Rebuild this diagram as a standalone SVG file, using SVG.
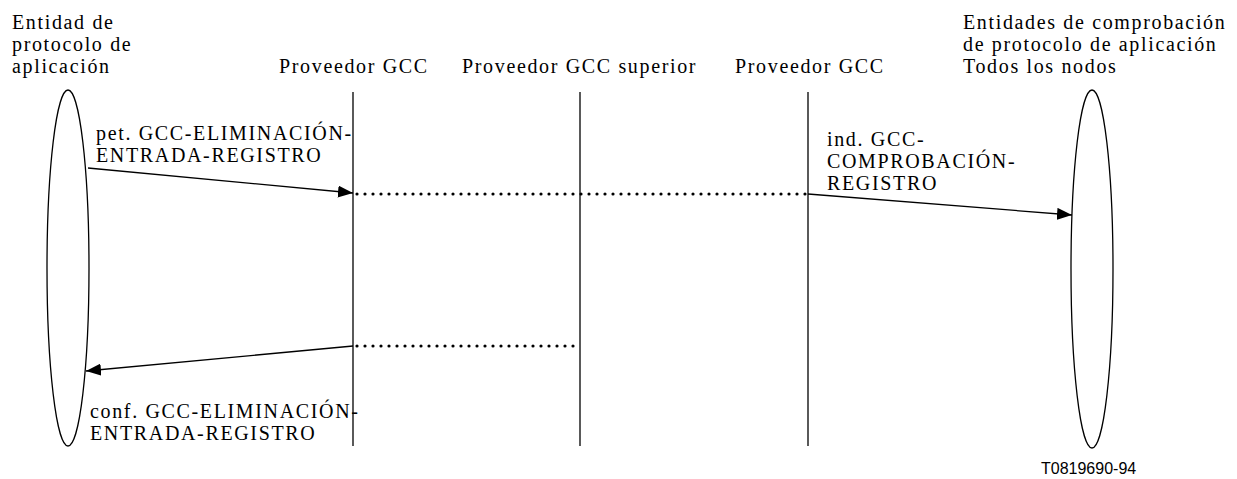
<svg xmlns="http://www.w3.org/2000/svg" width="1237" height="479" viewBox="0 0 1237 479">
<style>
.t{font-family:'Liberation Serif','Times New Roman',serif;font-size:20px;letter-spacing:1.65px;fill:#000}
.ln{stroke:#000;stroke-width:1.3;fill:none}
.dot{stroke:#000;stroke-width:3.2;stroke-linecap:round;stroke-dasharray:0 8;fill:none}
</style>
<defs>
<marker id="ah" markerWidth="16" markerHeight="12" refX="15" refY="6" orient="auto" markerUnits="userSpaceOnUse">
<path d="M0,0 L15,6 L0,12 Z" fill="#000"/>
</marker>
</defs>
<g id="node-app-left">
<ellipse cx="68" cy="268" rx="21" ry="178" class="ln"/>
<text class="t" x="12" y="29">Entidad de</text>
<text class="t" x="12" y="51">protocolo de</text>
<text class="t" x="12" y="73">aplicación</text>
</g>
<g id="node-gcc-left">
<line x1="353" y1="92" x2="353" y2="446" class="ln"/>
<text class="t" x="279" y="73">Proveedor GCC</text>
</g>
<g id="node-gcc-top">
<line x1="580" y1="92" x2="580" y2="446" class="ln"/>
<text class="t" x="462" y="73">Proveedor GCC superior</text>
</g>
<g id="node-gcc-right">
<line x1="808" y1="92" x2="808" y2="446" class="ln"/>
<text class="t" x="735" y="73">Proveedor GCC</text>
</g>
<g id="node-app-right">
<ellipse cx="1092" cy="269" rx="21" ry="179" class="ln"/>
<text class="t" x="963" y="29">Entidades de comprobación</text>
<text class="t" x="963" y="51">de protocolo de aplicación</text>
<text class="t" x="963" y="73">Todos los nodos</text>
</g>
<g id="connectors">
<line x1="88" y1="168" x2="353" y2="193" class="ln" marker-end="url(#ah)"/>
<line x1="357" y1="194" x2="806" y2="194" class="dot"/>
<line x1="808" y1="194" x2="1072" y2="215" class="ln" marker-end="url(#ah)"/>
<line x1="357" y1="346" x2="578" y2="346" class="dot"/>
<line x1="353" y1="346" x2="86" y2="371" class="ln" marker-end="url(#ah)"/>
<text class="t" x="96" y="140">pet. GCC-ELIMINACIÓN-</text>
<text class="t" x="96" y="162">ENTRADA-REGISTRO</text>
<text class="t" x="827" y="146">ind. GCC-</text>
<text class="t" x="827" y="168">COMPROBACIÓN-</text>
<text class="t" x="827" y="190">REGISTRO</text>
<text class="t" x="90" y="418">conf. GCC-ELIMINACIÓN-</text>
<text class="t" x="90" y="440">ENTRADA-REGISTRO</text>
</g>
<text font-family="'Liberation Sans', Arial, sans-serif" font-size="16" x="1041" y="474">T0819690-94</text>
</svg>
